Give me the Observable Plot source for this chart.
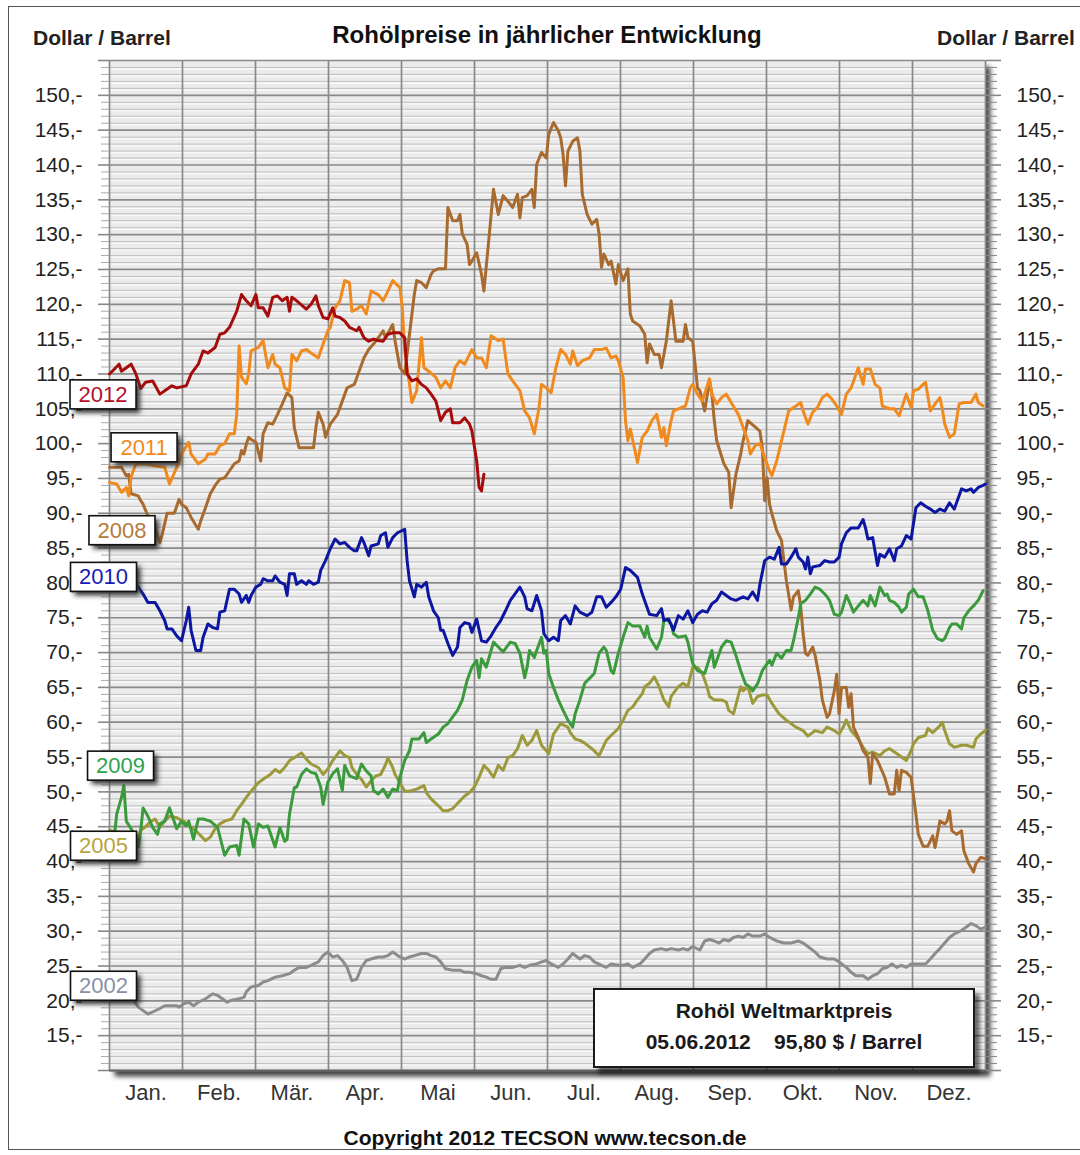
<!DOCTYPE html>
<html><head><meta charset="utf-8">
<script src="https://cdn.jsdelivr.net/npm/d3@7"></script>
<script src="https://cdn.jsdelivr.net/npm/@observablehq/plot@0.6"></script>
<style>
body{margin:0;background:#fff;font-family:"Liberation Sans",Arial,sans-serif;}
#page{position:relative;width:1080px;height:1155px;overflow:hidden;background:#fff;}
#border{position:absolute;left:8px;top:6px;width:1110px;height:1144px;border:1.5px solid #555;box-sizing:border-box;pointer-events:none;}
.hd{position:absolute;font-weight:bold;color:#222;line-height:1;white-space:nowrap;}
#chart{position:absolute;left:0;top:50px;}
#info{position:absolute;left:593px;top:988px;width:382px;height:80px;box-sizing:border-box;border:2px solid #1a1a1a;background:#fff;box-shadow:5px 6px 4px rgba(0,0,0,0.55);}
#info div{position:absolute;left:0;width:100%;text-align:center;font-weight:bold;font-size:21px;line-height:1;color:#1a1a1a;white-space:pre;}
</style></head><body>
<div id="page">
  <div id="border"></div>
  <div class="hd" style="left:33px;top:27px;font-size:21px;">Dollar / Barrel</div>
  <div class="hd" style="left:0;width:1094px;text-align:center;top:23px;font-size:24px;color:#111;">Rohölpreise in jährlicher Entwicklung</div>
  <div class="hd" style="left:937px;top:27px;font-size:21px;">Dollar / Barrel</div>
  <div id="chart"></div>
  <div id="info">
    <div style="top:10px;">Rohöl Weltmarktpreis</div>
    <div style="top:41px;">05.06.2012    95,80 $ / Barrel</div>
  </div>
  <div class="hd" style="left:0;width:1090px;text-align:center;top:1127px;font-size:21px;color:#111;">Copyright 2012 TECSON  www.tecson.de</div>
</div>
<script>
// ---- data: [day of year, US$ per barrel] ----
const d2002 = [[0,21.5],[5,21],[10,20.1],[12,19.1],[14,18.6],[16,18.1],[18,18.4],[21,18.9],[23,19.3],[25,19.3],[28,19.3],[29,19.1],[31,19.6],[33,19.8],[35,19.3],[37,19.8],[40,20.3],[43,21],[45,20.8],[47,20.3],[49,19.8],[51,20.1],[54,20.3],[56,20.5],[57,21.3],[59,22],[62,22.2],[64,22.7],[66,22.9],[69,23.4],[72,23.6],[75,23.9],[77,24.4],[79,24.8],[82,24.8],[84,25.1],[87,25.6],[89,26.5],[91,27],[93,26.3],[95,26.5],[97,25.8],[99,24.8],[101,22.9],[103,23.1],[105,24.8],[107,25.8],[109,26],[112,26.3],[114,26.3],[116,26.5],[118,27],[121,26.3],[123,26],[125,26.3],[127,26.5],[130,26.8],[132,26.8],[134,26.5],[136,26.3],[138,25.6],[140,24.6],[143,24.4],[146,24.4],[148,24.1],[150,24.1],[153,23.9],[155,23.6],[157,23.4],[159,23.1],[161,23.1],[163,24.6],[165,24.8],[168,24.8],[171,25.1],[173,24.8],[175,25.1],[178,25.3],[180,25.6],[182,25.8],[184,25.3],[187,24.8],[189,25.3],[191,26],[193,26.8],[196,26],[198,26.5],[200,26.3],[202,25.6],[205,25.1],[207,24.8],[209,25.3],[212,25.1],[214,25.1],[216,25.3],[218,24.8],[221,25.3],[223,26],[225,26.8],[227,27.3],[230,27.5],[232,27.3],[234,27.5],[237,27.3],[239,27.5],[241,27.3],[243,27.8],[246,27.3],[248,28.6],[250,28.8],[252,28.6],[254,28.3],[256,28.8],[258,28.6],[260,29.1],[262,29.3],[264,29.1],[266,29.6],[268,29.3],[271,29.3],[273,29.6],[275,29.1],[278,28.6],[281,28.3],[284,28.3],[287,28.6],[289,28.3],[291,27.8],[294,27],[296,26.3],[299,26],[302,26],[304,25.6],[307,24.8],[309,24.1],[311,23.6],[314,23.6],[316,23.1],[318,23.6],[320,23.9],[322,24.6],[324,24.8],[326,25.3],[328,24.8],[330,25.1],[332,24.8],[334,25.3],[337,25.3],[340,25.3],[342,26],[344,26.8],[346,27.5],[348,28.3],[350,29.1],[352,29.6],[355,30.1],[357,30.6],[359,31.1],[361,30.8],[363,30.3],[365,30.6]];

const d2005 = [[0,44.5],[6,44],[11,43.5],[12,43.8],[13,44.5],[15,45],[17,45.7],[19,46.1],[21,44.9],[23,45.8],[25,46.5],[28,46.3],[29,46.1],[31,45.8],[33,45.1],[36,44.4],[38,43.7],[40,43],[42,43.5],[44,44.7],[46,45.4],[48,45.8],[51,46.1],[53,47.3],[55,48.2],[57,49.2],[59,50.1],[62,51.3],[64,51.8],[67,52.5],[69,53.2],[71,52.8],[73,53.5],[75,54.5],[77,54.9],[80,55.6],[82,54.7],[84,54],[87,53.5],[89,52.5],[91,53.3],[93,54.5],[96,55.9],[98,55.2],[100,54.9],[101,53.5],[103,52.5],[105,51.8],[107,50.7],[109,51.6],[111,52.3],[113,52.5],[115,53.9],[116,54.9],[118,53.5],[119,52.5],[121,51.3],[123,50.1],[125,50.1],[128,50.4],[131,50.9],[132,49.9],[134,49],[137,48],[139,47.3],[141,47.3],[143,47.6],[146,48.7],[148,49.4],[150,49.9],[152,50.7],[154,52.1],[156,53.8],[158,53.1],[160,52.1],[162,53.8],[164,53.1],[166,54.9],[168,55.2],[170,56.2],[172,58.1],[174,56.7],[176,57.4],[178,58.8],[180,56.7],[182,55.9],[183,55.5],[185,58.3],[188,59.8],[191,59.3],[192,58.5],[194,57.6],[196,57.4],[198,57],[201,56.2],[204,55.2],[207,57.4],[209,58.1],[212,59.1],[214,60.3],[216,61.7],[218,62.2],[220,63.2],[222,64.1],[223,65.1],[225,65.6],[227,66.5],[229,65.1],[231,63.2],[233,62.2],[234,63.7],[237,65.1],[239,65.6],[241,65.1],[243,67.9],[245,67.9],[247,67],[249,65.1],[250,63.7],[252,63.2],[255,63.2],[257,62.9],[258,61.7],[260,61.2],[263,65.1],[264,64.5],[266,65.1],[268,62.7],[270,63.7],[272,63.9],[274,63.9],[276,62.7],[279,61.2],[282,60.3],[286,59.3],[289,58.8],[291,58],[294,58.8],[297,58.5],[299,59.3],[302,58.8],[304,58.3],[306,59.5],[307,60.3],[309,58.8],[312,57.6],[314,56.4],[316,55.5],[318,55.7],[321,55.2],[323,55.9],[325,56.2],[328,55.5],[330,55],[332,54.5],[334,55.9],[335,56.9],[337,57.8],[340,58.1],[341,59.1],[343,58.5],[346,59.5],[347,60],[348,58.8],[350,56.9],[352,56.4],[355,56.7],[357,56.7],[360,56.4],[361,57.6],[363,58.3],[365,58.8]];

const d2008 = [[0,96.6],[2,96.6],[5,96.6],[7,95.4],[8,95.6],[9,92.8],[12,92.5],[13,91.8],[14,91.3],[16,89.6],[18,89.4],[19,87.9],[21,85.8],[22,87],[23,88.5],[24,90],[27,90],[29,92],[30,91.3],[32,90.8],[34,89.4],[37,87.7],[38,88.9],[40,90.8],[42,92.8],[44,94],[46,94.9],[48,95.1],[50,96.1],[52,97.1],[54,97.5],[55,99],[56,98.5],[57,99.9],[58,100.9],[59,100.6],[61,100.2],[63,97.5],[64,101.4],[66,103],[68,102.8],[70,104.2],[72,105.7],[74,107.3],[76,106.6],[77,102.3],[79,99.4],[83,99.4],[85,99.4],[86,102.3],[87,104.5],[89,102.8],[90,100.9],[92,102.8],[95,104.2],[97,106.1],[99,108],[102,108.5],[104,110.4],[106,112.3],[108,113.5],[110,114.3],[112,115.2],[114,116.2],[115,115.2],[118,117.1],[119,114.7],[121,110.9],[123,110],[125,115.7],[127,121.4],[128,123.4],[130,123.1],[132,122.4],[134,124.3],[135,124.8],[137,125.1],[140,125.1],[141,133.9],[143,132],[145,132],[146,132.9],[147,130.1],[149,128.6],[150,125.7],[151,126.2],[153,127.4],[155,124.3],[156,121.9],[158,129.1],[160,136.5],[162,132.9],[164,135.6],[166,134.8],[168,133.9],[170,135.8],[171,132.4],[172,135.3],[174,135.6],[176,136.5],[177,133.9],[178,140.1],[180,141.8],[182,141],[183,144.4],[185,146.1],[187,144.9],[188,143.9],[189,141.5],[190,137],[191,142],[193,143.4],[195,143.9],[196,142],[197,135.8],[199,132.9],[201,131.5],[203,132.2],[204,130.1],[205,125.3],[206,127.2],[208,125.7],[209,126.2],[211,122.9],[212,125.7],[214,123.4],[216,125.1],[217,118.6],[218,117.6],[221,116.9],[223,115.7],[224,111.6],[225,114.3],[227,112.8],[229,112.8],[230,110.9],[232,114.7],[234,120.5],[235,117.6],[236,114.7],[239,114.7],[240,117.1],[241,115.2],[243,114.7],[244,111.4],[245,108],[246,107.6],[248,104.7],[250,109],[251,107.1],[252,103.3],[253,100.4],[256,97.1],[258,95.9],[259,90.8],[260,93.2],[261,95.6],[263,98.5],[264,100.4],[266,103.3],[271,101.8],[272,99.4],[273,91.8],[274,95.1],[275,91.3],[276,89.9],[278,87.5],[280,86.1],[281,83.2],[282,80.4],[284,76.1],[285,78],[287,78.9],[288,76.6],[289,72.7],[290,69.9],[291,69.6],[293,70.8],[294,69.6],[296,66],[297,63.2],[299,60.7],[300,61.2],[302,64.5],[303,66.9],[304,61.2],[305,65],[307,65],[308,62.1],[309,64.1],[310,59.3],[312,57.8],[314,55.9],[316,55],[317,51.2],[318,55.5],[320,54.5],[323,52.1],[325,49.7],[327,49.7],[328,53.1],[329,50.2],[330,53.1],[332,52.8],[334,52.1],[336,46.8],[337,43.9],[339,42.2],[341,42.2],[343,43.7],[344,42],[346,45.8],[348,45.4],[349,45.8],[350,47.3],[351,44.4],[353,43.9],[355,44.4],[356,41.5],[358,39.7],[360,38.5],[361,39.7],[363,40.6],[365,40.4]];

const d2009 = [[0,42.6],[2,43.5],[3,46.8],[5,49.2],[6,50.9],[7,45.8],[9,44.7],[11,43.5],[12,42.1],[13,44.4],[14,47.7],[16,46.5],[18,44.9],[20,43.9],[21,45.4],[23,45.8],[25,47.7],[28,44.7],[30,45.8],[32,45.1],[33,45.8],[35,43.2],[37,46.1],[39,46.1],[42,45.8],[45,44.9],[48,40.9],[50,42.1],[53,42.3],[54,40.9],[56,46.1],[58,45.4],[60,42.1],[62,45.4],[64,44.9],[66,45.1],[69,42.1],[71,44.9],[73,42.9],[74,43.2],[75,46.8],[77,50.6],[78,50.7],[80,52.5],[82,53.3],[84,52.8],[86,52.6],[88,50.7],[89,48.2],[91,51.4],[93,52.6],[95,53.3],[97,50.2],[98,53.8],[100,52.3],[103,51.9],[105,54],[107,53],[109,52.3],[110,50.2],[112,49.7],[114,50.4],[116,49.2],[118,50.4],[120,50.2],[121,52.1],[123,54.5],[125,55.9],[126,57.6],[129,57.6],[131,58.5],[132,57.1],[134,57.6],[137,58.3],[139,59.3],[141,59.8],[142,60.3],[145,61.7],[147,63.2],[149,66],[151,67.9],[153,68.9],[154,66.4],[155,69.1],[157,67.9],[159,70.3],[160,71.5],[162,70.8],[164,70.1],[167,71.5],[169,71.3],[171,69.9],[173,66.4],[174,67.9],[175,70.3],[177,69.3],[178,70.3],[180,72.2],[181,69.9],[182,70.3],[183,67],[185,65],[187,63.2],[189,61.7],[191,60.3],[193,59.3],[194,61.2],[196,63.2],[198,65.6],[200,66.3],[202,67],[204,69.9],[206,70.8],[207,70.3],[209,67.4],[210,67],[212,69.9],[214,72.2],[216,74.3],[218,73.8],[221,73.8],[223,72.2],[224,73.8],[225,72.2],[228,70.5],[230,72.2],[231,74.6],[232,74.8],[234,74.1],[235,72.7],[237,72.2],[240,72.4],[241,71.5],[243,68.4],[245,67.4],[248,67],[251,70.3],[252,67.9],[255,70.8],[257,71.7],[259,71.5],[261,69.6],[263,67.4],[265,65.5],[267,65],[268,64.5],[270,65.5],[272,67.4],[273,67.9],[275,68.9],[276,68.2],[278,69.9],[280,69.2],[282,70.3],[284,70.3],[285,71.7],[287,75],[288,77],[290,77.5],[292,78.4],[294,79.4],[296,79.1],[298,78.4],[299,78],[300,77.5],[302,75.5],[304,75.3],[305,75.8],[307,78.2],[308,77.5],[310,75.8],[312,76.7],[314,77.5],[316,76.7],[317,78.2],[319,76.7],[321,79.4],[323,78.2],[324,78.4],[325,77.5],[327,77.2],[329,76.5],[330,75.8],[332,76.5],[333,78.4],[335,79.1],[337,78],[339,78],[341,76],[343,73.2],[345,72],[347,71.7],[348,72],[350,73.6],[351,74.1],[353,74.1],[355,73.4],[356,75],[358,76],[360,76.7],[362,77.5],[364,78.9]];

const d2010 = [[0,81],[5,80.5],[11,79.8],[12,79.4],[14,78.4],[16,77.2],[19,77.2],[21,76],[23,74.6],[24,73.4],[26,73.4],[28,72.4],[30,71.7],[32,74.6],[33,76.5],[34,73.2],[36,70.3],[38,70.3],[39,72.2],[41,74.1],[43,73.6],[45,73.4],[46,75.8],[48,76],[50,79.1],[52,79.1],[54,78.4],[55,77.2],[57,78.2],[58,77.2],[59,78.2],[61,79.4],[63,79.8],[64,80.6],[66,80.3],[68,80.3],[69,81],[71,80.1],[73,79.8],[74,78.2],[75,81.3],[77,81.3],[78,79.8],[80,80.3],[82,79.8],[83,80.3],[85,79.8],[87,80.1],[88,81.8],[90,83.2],[92,84.9],[94,86.3],[96,85.6],[98,85.8],[100,85.1],[102,84.6],[103,84.6],[105,86.5],[106,85.8],[108,83.9],[109,85.3],[112,85.6],[113,86.8],[115,87.2],[116,85.1],[118,86.5],[120,87.2],[123,87.7],[124,83.2],[125,80.3],[127,78],[128,79.8],[130,79.4],[132,80.1],[133,78],[135,76],[137,75],[138,73.2],[139,73.2],[141,71.3],[143,69.6],[145,70.8],[146,73.6],[148,74.3],[150,74.1],[151,72.9],[153,74.8],[155,71.7],[157,71.5],[159,72.4],[161,73.6],[163,74.6],[165,76],[167,77.5],[171,79.4],[173,78],[174,76.3],[176,76],[178,78.2],[180,76],[181,72.7],[183,71.7],[185,72.2],[187,71.7],[188,74.6],[190,75.3],[192,74.1],[194,76.7],[196,75.8],[199,75.3],[201,75.8],[203,78],[205,78],[207,76.5],[209,77.2],[211,78],[213,79.1],[215,82.2],[217,81.8],[220,80.8],[222,78.4],[225,75.5],[228,75.3],[230,76.3],[231,74.6],[233,74.8],[235,73.2],[237,75.3],[239,74.8],[241,76],[243,74.3],[245,75.5],[247,76],[249,75.8],[251,77],[253,77.5],[255,78.7],[257,78.2],[259,77.7],[261,77.5],[264,78],[266,77.7],[268,78.7],[270,77.5],[271,79.8],[273,83.2],[275,83.7],[277,83.4],[279,85.1],[280,82.7],[282,82.7],[284,83.7],[286,84.9],[287,83.7],[289,83],[290,82],[291,83.7],[292,81.3],[293,82.3],[296,82.5],[298,83.2],[300,83],[302,83],[304,83.7],[305,85.6],[307,87.2],[309,87.9],[312,87.9],[314,89.1],[315,87.9],[316,86.3],[318,86.5],[320,82.5],[321,84.1],[323,83.7],[325,84.9],[327,83.2],[328,84.9],[330,85.3],[332,86.8],[334,86.3],[336,90.8],[338,91.5],[340,91],[342,90.6],[344,90.1],[346,90.6],[348,90.3],[350,91.5],[352,90.6],[355,93.5],[357,93.2],[359,93.5],[360,93],[362,93.7],[364,94],[365,94.2]];

const d2011 = [[0,94.4],[3,94.2],[5,93],[7,93.7],[8,92.5],[9,95.2],[11,97.1],[15,97.1],[19,96.8],[23,96.6],[25,94.2],[28,96.6],[29,97.3],[30,98.5],[33,100.2],[34,98.5],[37,97.1],[40,97.8],[41,98.5],[44,98.5],[46,99.7],[48,100],[50,101.4],[52,101.4],[53,104.2],[54,114],[55,109.5],[57,108.6],[58,110],[59,113.3],[62,113.8],[64,114.8],[66,110.9],[68,112.8],[69,111.4],[71,110.9],[73,108],[75,107.6],[76,112.8],[78,111.9],[80,113.3],[82,113.5],[84,113],[87,112.3],[89,114.3],[91,116.2],[92,116.7],[94,119.5],[96,120.5],[98,123.4],[100,123.1],[101,119],[103,119.3],[105,119.8],[107,118.6],[109,121.9],[112,121.4],[114,120.5],[116,121.9],[118,123.4],[121,122.4],[122,119.5],[123,113.3],[125,108.5],[126,105.9],[128,107.6],[130,115.2],[131,110.9],[133,110.4],[136,109.5],[138,108],[140,109],[142,108],[144,110.9],[146,111.9],[148,111.4],[151,113.5],[153,112.3],[155,112.3],[157,110.9],[159,115.5],[162,114.8],[164,115],[166,110],[168,109],[171,107.6],[173,104.7],[175,103.7],[177,101.4],[179,105.2],[180,108.5],[182,108],[184,107.3],[186,110.9],[188,113.5],[190,112.8],[192,111.4],[193,113.3],[195,111.2],[197,111.9],[200,112.3],[202,113.5],[205,113.5],[207,113.7],[209,112.3],[211,112.6],[212,111.9],[214,109.5],[215,103.3],[216,100.4],[217,102.1],[220,97.3],[222,100.9],[224,101.8],[226,103.3],[228,104.2],[230,100.9],[231,102.3],[232,99.7],[234,103.3],[235,104.7],[237,105],[240,105.4],[242,108],[243,108.5],[245,107.1],[247,106.1],[250,109.3],[251,107.1],[253,105.7],[255,106.6],[257,107.1],[259,105.9],[262,104.2],[264,102.3],[266,100.4],[267,98.5],[269,99.7],[271,100],[273,98],[275,96.1],[276,95.4],[278,97.5],[280,100.4],[283,104.7],[286,105.4],[288,105.9],[289,104.7],[291,102.8],[293,104.5],[295,105.2],[297,106.6],[299,107.1],[301,106.4],[303,105.4],[305,104.2],[307,107.1],[309,108],[312,110.9],[314,108.5],[315,110.7],[317,110.7],[319,108.5],[321,108],[322,105.4],[325,105],[327,105],[329,104],[330,105],[332,107.1],[334,105.2],[335,107.6],[337,107.8],[339,108.5],[340,108.8],[342,104.7],[344,105.7],[346,106.6],[347,105],[348,102.8],[350,100.9],[352,101.4],[354,105.7],[356,105.9],[359,105.9],[361,107.1],[362,105.9],[364,105.4]];

const d2012 = [[0,110],[4,111.4],[5,110.4],[7,110.9],[9,111.4],[11,110],[13,107.9],[15,108.8],[18,109],[21,107.1],[23,107.6],[26,108.3],[28,108],[32,108.3],[34,110],[37,111.4],[39,113.3],[41,113],[44,113.8],[46,115.7],[48,115.9],[50,116.7],[53,119],[55,121.4],[57,120.5],[59,119.8],[61,121.4],[62,119.5],[64,119.5],[66,118.3],[68,121],[70,121.2],[72,120.5],[74,121],[75,119],[76,121],[78,120.5],[82,119.3],[84,120],[86,121.2],[87,119.8],[89,118.1],[91,117.9],[93,119.5],[94,118.3],[96,118.1],[98,117.6],[100,116.7],[103,116.2],[104,116.7],[106,115.2],[108,114.7],[110,115],[112,114.8],[114,114.7],[116,115.7],[118,115.9],[121,115.9],[123,115.2],[124,110],[126,109],[128,109.3],[130,108.5],[132,108],[134,107.1],[136,106.1],[138,103.3],[140,104.5],[142,105],[143,103],[146,103],[148,103.7],[150,102.8],[151,101.8],[153,97.5],[154,93.7],[155,93.2],[156,95.6]];

const years  = ["2002", "2005", "2008", "2009", "2010", "2011", "2012"];
const colors = ["#8c8c8c", "#9c993a", "#a86a2e", "#3a9a3c", "#0c16a0", "#f08a1e", "#a60c0c"];
const seriesData = [d2002, d2005, d2008, d2009, d2010, d2011, d2012];

// year label boxes (day, price of box centre)
const labelYears  = ["2012", "2011", "2008", "2010", "2009", "2005", "2002"];
const labelDays   = [-2.7, 14.4, 5.2, -2.5, 4.6, -2.5, -2.5];
const labelPrices = [107, 99.4, 87.5, 80.8, 53.7, 42.2, 22.1];
const labelColors = ["#b3102a", "#f08a1e", "#b57a3c", "#1a1ab4", "#2ea34e", "#b8a43e", "#8a90a4"];

const monthNames = ["Jan.", "Feb.", "Mär.", "Apr.", "Mai", "Jun.", "Jul.", "Aug.", "Sep.", "Okt.", "Nov.", "Dez."];
const yLabelTicks = d3.range(15, 151, 5);

// ---- build table ----
const rows = [];
seriesData.forEach((s, k) => s.forEach(([day, price]) => rows.push({year: years[k], day, price})));
const labels = labelYears.map((y, i) => ({year: y, day: labelDays[i], price: labelPrices[i], color: labelColors[i]}));

const monthLen = 365 / 12;
const monthStarts = d3.range(0, 13).map(i => i * monthLen);
const monthMids = d3.range(12).map(i => (i + 0.5) * monthLen);
const yMajor = d3.range(10, 156, 5);
const yMinor = d3.range(11, 155).filter(v => v % 5 !== 0);
const font = "Liberation Sans, Arial, sans-serif";

const chart = Plot.plot({
  width: 1080, height: 1065,
  marginLeft: 109, marginRight: 95, marginTop: 10, marginBottom: 45,
  x: {domain: [0, 365], label: null},
  y: {domain: [10, 155], label: null},
  color: {domain: years, range: colors},
  style: {fontFamily: font, background: "transparent", color: "#222", overflow: "visible"},
  marks: [
    Plot.frame({fill: "#444", dx: 5, dy: 6}),
    Plot.frame({fill: "#ebebeb"}),
    Plot.ruleY(yMinor, {stroke: "#fafafa", strokeWidth: 1.4, dy: 1.6}),
    Plot.ruleY(yMinor, {stroke: "#c0c0c0", strokeWidth: 1}),
    Plot.ruleY(yMajor, {stroke: "#8a8a8a", strokeWidth: 1.7}),
    Plot.ruleX(monthStarts, {stroke: "#8a8a8a", strokeWidth: 1.7}),
    Plot.ruleY([10], {stroke: "#666", strokeWidth: 1.8}),
    // left ticks & labels
    Plot.axisY({ticks: yMinor, anchor: "left", tickSize: 8, stroke: "#aaa", tickFormat: () => "", label: null}),
    Plot.axisY({ticks: yMajor, anchor: "left", tickSize: 11, stroke: "#888", strokeWidth: 1.6, tickFormat: () => "", label: null}),
    Plot.axisY({ticks: yLabelTicks, anchor: "left", tickSize: 0, tickPadding: 27, tickFormat: d => d + ",-", fontSize: 21, fill: "#222", label: null}),
    // right ticks & labels
    Plot.axisY({ticks: yMinor, anchor: "right", tickSize: 11, stroke: "#888", tickFormat: () => "", label: null}),
    Plot.axisY({ticks: yMajor, anchor: "right", tickSize: 15, stroke: "#888", strokeWidth: 1.6, tickFormat: () => "", label: null}),
    Plot.axisY({ticks: yLabelTicks, anchor: "right", tickSize: 0, tickPadding: 31, tickFormat: d => d + ",-", fontSize: 21, fill: "#222", label: null}),
    // month labels
    Plot.axisX({ticks: monthMids, tickSize: 0, tickPadding: 14, tickFormat: d => monthNames[Math.floor(d / monthLen)], fontSize: 22, fill: "#333", label: null}),
    // series
    Plot.line(rows, {x: "day", y: "price", z: "year", stroke: "year", strokeWidth: 3, strokeLinejoin: "round", strokeLinecap: "round"}),
    // year labels
    Plot.text(labels, {x: "day", y: "price", text: "year", fill: "color", fontSize: 22})
  ]
});

document.getElementById("chart").append(chart);

// ---- decorations: soft shadows and label boxes ----
const svg = d3.select(chart);
const defs = svg.insert("defs", ":first-child");
const flt = defs.append("filter").attr("id", "soft")
  .attr("x", "-20%").attr("y", "-20%").attr("width", "140%").attr("height", "140%");
flt.append("feGaussianBlur").attr("stdDeviation", 2.4);

// first frame = drop shadow of plot area
const frames = svg.selectAll('[aria-label="frame"]').nodes();
if (frames.length) d3.select(frames[0]).attr("filter", "url(#soft)");

// boxes behind year labels (the only text mark)
const textGroups = svg.selectAll('g[aria-label="text"]').nodes();
const labelGroup = textGroups[textGroups.length - 1];
if (labelGroup) {
  d3.select(labelGroup).selectAll("text").each(function() {
    const b = this.getBBox();
    const t = this.getAttribute("transform");
    const cx = b.x + b.width / 2, cy = b.y + b.height / 2;
    const w = 66, h = 29;
    const parent = d3.select(this.parentNode);
    const node = this;
    parent.insert("rect", () => node)
      .attr("x", cx - w / 2 + 4).attr("y", cy - h / 2 + 4).attr("width", w).attr("height", h)
      .attr("fill", "#333").attr("filter", "url(#soft)").attr("transform", t);
    parent.insert("rect", () => node)
      .attr("x", cx - w / 2).attr("y", cy - h / 2).attr("width", w).attr("height", h)
      .attr("fill", "#fff").attr("stroke", "#111").attr("stroke-width", 1.6).attr("transform", t);
  });
}
</script>
</body></html>
